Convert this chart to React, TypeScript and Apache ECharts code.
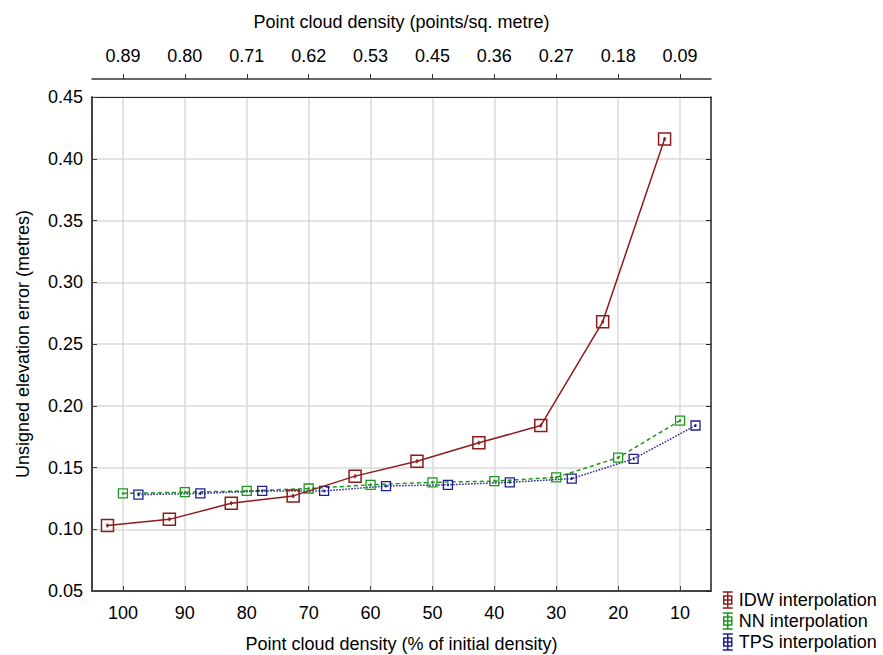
import React, { useEffect, useRef } from 'react';
import * as echarts from 'echarts';

// Bottom axis ticks (% of initial density) and matching top axis labels (points/sq. metre)
const percentTicks = [100, 90, 80, 70, 60, 50, 40, 30, 20, 10];
const densityLabels = ['0.89', '0.80', '0.71', '0.62', '0.53', '0.45', '0.36', '0.27', '0.18', '0.09'];

// IDW interpolation
const idwX = [102.5, 92.5, 82.5, 72.5, 62.5, 52.5, 42.5, 32.5, 22.5, 12.5];
const idwY = [0.103, 0.108, 0.121, 0.127, 0.143, 0.155, 0.170, 0.184, 0.268, 0.416];

// NN interpolation
const nnX = [100, 90, 80, 70, 60, 50, 40, 30, 20, 10];
const nnY = [0.129, 0.130, 0.131, 0.133, 0.136, 0.138, 0.139, 0.142, 0.158, 0.188];

// TPS interpolation
const tpsX = [97.5, 87.5, 77.5, 67.5, 57.5, 47.5, 37.5, 27.5, 17.5, 7.5];
const tpsY = [0.128, 0.129, 0.131, 0.131, 0.135, 0.136, 0.138, 0.141, 0.157, 0.184];

const FONT = "'Liberation Sans', Arial, sans-serif";
const IDW_C = '#8e1b1b';
const NN_C = '#1e961e';
const TPS_C = '#1e1e96';

const markerPath = 'path://M0,0L12,0L12,12L0,12Z M6,4L6,8 M4.5,6L7.5,6';
const legendIconPath = 'path://M1,0L11,0 M6,0L6,16 M1,16L11,16 M2,4L10,4L10,12L2,12Z M2,8L10,8';

export default function App() {
  const ref = useRef<HTMLDivElement>(null);

  useEffect(() => {
    document.body.style.margin = '0';
    if (!ref.current) return;
    const chart = echarts.init(ref.current, undefined, { renderer: 'svg' });

    const mk = (xs: number[], ys: number[]) => xs.map((x, i) => [x, ys[i]]);
    const txt = { fontFamily: FONT, fontSize: 18, color: '#000' };

    const option: any = {
      animation: false,
      backgroundColor: '#fff',
      grid: { left: 92, right: 172, top: 97, bottom: 64, containLabel: false, outerBoundsMode: 'none' },
      legend: {
        orient: 'vertical',
        left: 722,
        top: 591,
        padding: 0,
        itemWidth: 12,
        itemHeight: 16,
        itemGap: 3,
        icon: legendIconPath,
        selectedMode: false,
        textStyle: { ...txt, lineHeight: 18, padding: [0, 0, 0, 0] },
        data: [
          { name: 'IDW interpolation', itemStyle: { color: 'rgba(0,0,0,0)', borderColor: IDW_C, borderWidth: 1.5 } },
          { name: 'NN interpolation', itemStyle: { color: 'rgba(0,0,0,0)', borderColor: NN_C, borderWidth: 1.5 } },
          { name: 'TPS interpolation', itemStyle: { color: 'rgba(0,0,0,0)', borderColor: TPS_C, borderWidth: 1.5 } },
        ],
      },
      xAxis: [
        {
          type: 'value',
          min: 5,
          max: 105,
          inverse: true,
          splitNumber: 10,
          minInterval: 10,
          maxInterval: 10,
          position: 'bottom',
          axisLine: { show: true, onZero: false, lineStyle: { color: '#444', width: 2 } },
          axisTick: { show: true, inside: true, length: 5, customValues: percentTicks, lineStyle: { color: '#444' } },
          axisLabel: { customValues: percentTicks, margin: 13, ...txt },
          splitLine: { show: true, lineStyle: { color: '#dadada', width: 1.5 } },
          name: 'Point cloud density (% of initial density)',
          nameLocation: 'middle',
          nameGap: 44,
          nameTextStyle: txt,
        },
        {
          type: 'value',
          min: 5,
          max: 105,
          inverse: true,
          splitNumber: 10,
          minInterval: 10,
          maxInterval: 10,
          position: 'top',
          offset: 18,
          axisLine: { show: true, onZero: false, lineStyle: { color: '#333', width: 1.5 } },
          axisTick: { show: true, inside: false, length: 5, customValues: percentTicks, lineStyle: { color: '#333' } },
          axisLabel: {
            customValues: percentTicks,
            margin: 14,
            ...txt,
            formatter: (v: number) => {
              const i = percentTicks.indexOf(Math.round(v));
              return i >= 0 ? densityLabels[i] : '';
            },
          },
          splitLine: { show: false },
          name: 'Point cloud density (points/sq. metre)',
          nameLocation: 'middle',
          nameGap: 48,
          nameTextStyle: txt,
        },
        {
          type: 'value',
          min: 5,
          max: 105,
          inverse: true,
          position: 'top',
          offset: 0,
          axisLine: { show: true, onZero: false, lineStyle: { color: '#222', width: 1 } },
          axisTick: { show: false },
          axisLabel: { show: false },
          splitLine: { show: false },
        },
      ],
      yAxis: [
        {
          type: 'value',
          min: 0.05,
          max: 0.45,
          interval: 0.05,
          position: 'left',
          axisLine: { show: true, onZero: false, lineStyle: { color: '#444', width: 2 } },
          axisTick: { show: true, inside: true, length: 5, lineStyle: { color: '#444' } },
          axisLabel: { margin: 9, ...txt, formatter: (v: number) => v.toFixed(2) },
          splitLine: { show: true, lineStyle: { color: '#dadada', width: 1.5 } },
          name: 'Unsigned elevation error (metres)',
          nameLocation: 'middle',
          nameGap: 60,
          nameTextStyle: txt,
        },
        {
          type: 'value',
          min: 0.05,
          max: 0.45,
          interval: 0.05,
          position: 'right',
          axisLine: { show: true, onZero: false, lineStyle: { color: '#222', width: 1.5 } },
          axisTick: { show: true, inside: true, length: 5, lineStyle: { color: '#222' } },
          axisLabel: { show: false },
          splitLine: { show: false },
        },
      ],
      series: [
        {
          name: 'IDW interpolation',
          type: 'line',
          xAxisIndex: 0,
          yAxisIndex: 0,
          data: mk(idwX, idwY),
          symbol: markerPath,
          symbolSize: 12,
          itemStyle: { color: 'rgba(255,255,255,0)', borderColor: IDW_C, borderWidth: 1.5 },
          lineStyle: { color: IDW_C, width: 1.5, type: 'solid' },
          z: 3,
        },
        {
          name: 'NN interpolation',
          type: 'line',
          xAxisIndex: 0,
          yAxisIndex: 0,
          data: mk(nnX, nnY),
          symbol: markerPath,
          symbolSize: 9,
          itemStyle: { color: 'rgba(255,255,255,0)', borderColor: NN_C, borderWidth: 1.3 },
          lineStyle: { color: NN_C, width: 1.5, type: [4, 3] },
          z: 2,
        },
        {
          name: 'TPS interpolation',
          type: 'line',
          xAxisIndex: 0,
          yAxisIndex: 0,
          data: mk(tpsX, tpsY),
          symbol: markerPath,
          symbolSize: 9,
          itemStyle: { color: 'rgba(255,255,255,0)', borderColor: TPS_C, borderWidth: 1.3 },
          lineStyle: { color: TPS_C, width: 1.5, type: [1.5, 1.5] },
          z: 2,
        },
      ],
    };

    chart.setOption(option);
    return () => chart.dispose();
  }, []);

  return <div ref={ref} style={{ width: 883, height: 655 }} />;
}
